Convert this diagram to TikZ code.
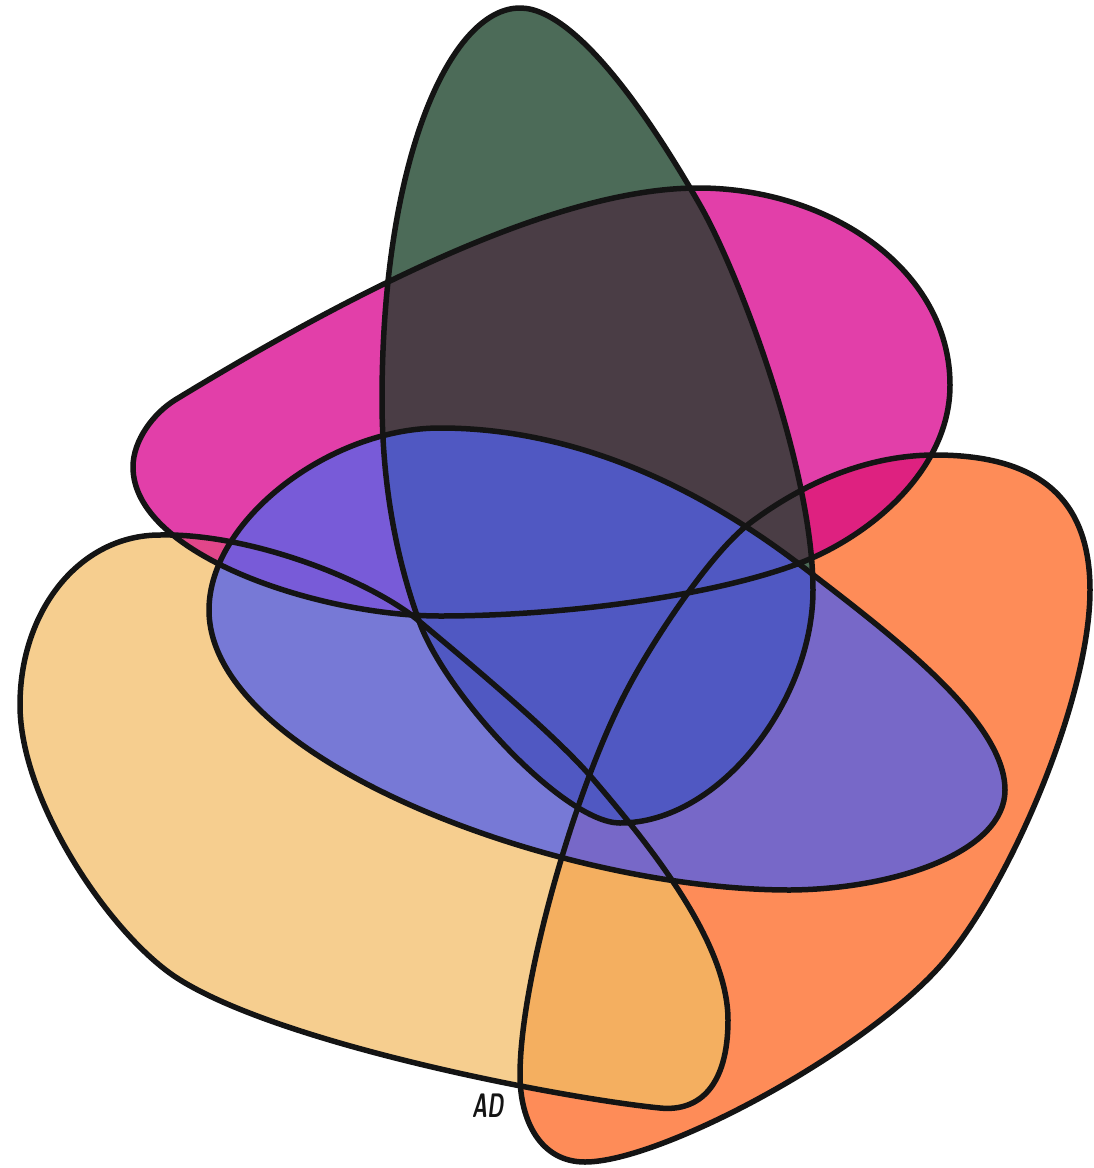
\documentclass[tikz,border=0pt]{standalone}
\usetikzlibrary{calc}
\definecolor{cY}{HTML}{F6CE8F}
\definecolor{cO}{HTML}{FE8C58}
\definecolor{cYO}{HTML}{F4AF60}
\definecolor{cM}{HTML}{E23FA9}
\definecolor{cMO}{HTML}{DE2180}
\definecolor{cMY}{HTML}{E2468A}
\definecolor{cG}{HTML}{4C6B58}
\definecolor{cGM}{HTML}{4A3D45}
\definecolor{cB}{HTML}{7779D6}
\definecolor{cBO}{HTML}{7768C8}
\definecolor{cBM}{HTML}{785BD8}
\definecolor{cBG}{HTML}{5058C2}
\definecolor{cLine}{HTML}{141414}
% green
\def\pathG{(520,8) .. controls (580,8) and (660,135) .. (700,205)
  .. controls (740,275) and (813,470) .. (813,590)
  .. controls (813,700) and (720,823) .. (620,823)
  .. controls (565,823) and (446,696) .. (419,621)
  .. controls (395,555) and (382,480) .. (382,400)
  .. controls (382,160) and (450,8) .. cycle}
% magenta
\def\pathM{(133,467) .. controls (133,440) and (154,413) .. (175,400)
  .. controls (362,286) and (560,188) .. (698,188)
  .. controls (830,188) and (950,270) .. (950,385)
  .. controls (950,470) and (870,536) .. (800,563)
  .. controls (710,597) and (560,616) .. (440,616)
  .. controls (320,616) and (133,555) .. cycle}
% blue
\def\pathB{(440,428) .. controls (600,428) and (730,511) .. (803,567)
  .. controls (890,634) and (1005,720) .. (1005,790)
  .. controls (1005,850) and (900,889) .. (790,890)
  .. controls (560,890) and (209,760) .. (209,610)
  .. controls (209,520) and (330,428) .. cycle}
% yellow
\def\pathY{(160,535) .. controls (250,533) and (370,580) .. (419,621)
  .. controls (457,653) and (554,733) .. (593,779)
  .. controls (645,840) and (728,940) .. (728,1020)
  .. controls (728,1085) and (700,1112) .. (660,1108)
  .. controls (560,1098) and (274,1043) .. (174,976)
  .. controls (108,931) and (20,800) .. (20,705)
  .. controls (20,610) and (80,535) .. cycle}
% orange
\def\pathO{(935,455) .. controls (1040,455) and (1090,500) .. (1090,590)
  .. controls (1090,700) and (1008,889) .. (942,964)
  .. controls (863,1054) and (660,1162) .. (585,1162)
  .. controls (540,1162) and (520,1120) .. (520,1075)
  .. controls (520,980) and (576,785) .. (628,688)
  .. controls (651,644) and (710,553) .. (750,523)
  .. controls (806,481) and (870,455) .. cycle}
\begin{document}
\begin{tikzpicture}[x=1pt,y=-1pt,
  outline/.style={draw=cLine, line width=5.5pt, line join=round}]
\useasboundingbox (0,0) rectangle (1094,1168);
\fill[cY] \pathY;
\fill[cO] \pathO;
\begin{scope}\clip \pathY; \fill[cYO] \pathO; \end{scope}
\fill[cM] \pathM;
\begin{scope}\clip \pathM; \fill[cMO] \pathO; \fill[cMY] \pathY; \end{scope}
\fill[cG] \pathG;
\begin{scope}\clip \pathG; \fill[cGM] \pathM; \end{scope}
\fill[cB] \pathB;
\begin{scope}\clip \pathB; \fill[cBO] \pathO; \fill[cBM] \pathM; \fill[cBG] \pathG; \end{scope}
\path[outline] \pathY;
\path[outline] \pathO;
\path[outline] \pathM;
\path[outline] \pathG;
\path[outline] \pathB;
\node[font=\sffamily\bfseries\slshape\fontsize{34}{34}\selectfont, xscale=0.6, text=cLine] (sig) at (488,1106) {AD};
\end{tikzpicture}
\end{document}
